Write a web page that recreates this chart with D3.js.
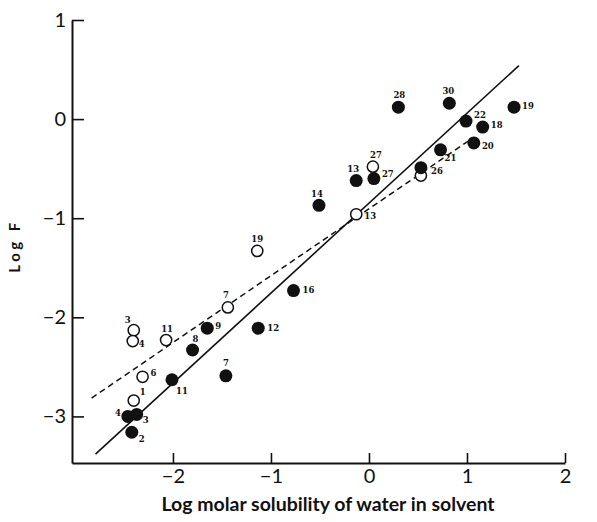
<!DOCTYPE html>
<html>
<head>
<meta charset="utf-8">
<script src="https://cdn.jsdelivr.net/npm/d3@7"></script>
<style>
  body { margin: 0; background: #fff; }
  text { fill: #111; }
</style>
</head>
<body>
<script>
// values

var filledX = [-2.46, -2.37, -2.42, -2.01, -1.80, -1.65, -1.46, -1.13, -0.77, -0.51, -0.13, 0.05, 0.30, 0.82, 1.48, 0.99, 1.16, 1.07, 0.73, 0.53];
var filledY = [-3.00, -2.98, -3.16, -2.63, -2.33, -2.11, -2.59, -2.11, -1.73, -0.87, -0.62, -0.60, 0.12, 0.16, 0.12, -0.02, -0.08, -0.24, -0.31, -0.49];
var filledLabels = ['4', '3', '2', '11', '8', '9', '7', '12', '16', '14', '13', '27', '28', '30', '19', '22', '18', '20', '21', ''];

var openX = [-2.40, -2.41, -2.07, -2.31, -2.40, -1.44, -1.14, 0.04, -0.13, 0.53];
var openY = [-2.13, -2.24, -2.23, -2.60, -2.84, -1.90, -1.33, -0.48, -0.96, -0.57];
var openLabels = ['3', '4', '11', '6', '1', '7', '19', '27', '13', '26'];

var solidX = [-2.79, 1.53];
var solidY = [-3.38, 0.54];
var dashX = [-2.83, 1.06];
var dashY = [-2.815, -0.19];

var xTicks = [-2, -1, 0, 1, 2];
var yTicks = [-3, -2, -1, 0, 1];

// where each number sits relative to its marker
var filledPos = [[-10, -3], [9, 6], [10, 7], [10, 12], [3, -11], [11, -2], [0, -12], [15, 0], [15, 0], [-2, -11], [-3, -11], [14, -4], [1, -12], [-1, -12], [14, -1], [14, -6], [14, -2], [14, 4], [10, 9], [0, 0]];
var openPos = [[-6, -10], [9, 3], [1, -11], [11, -3], [9, -8], [-2, -12], [0, -11], [3, -11], [14, 2], [16, -4]];

var svg = d3.select('body').append('svg')
  .attr('width', 597)
  .attr('height', 522);

var x = d3.scaleLinear().domain([-3.03, 2]).range([72, 565]);
var y = d3.scaleLinear().domain([-3.47, 1]).range([463, 20]);

var fmt = function(d) { return d < 0 ? '\u2212' + Math.abs(d) : d; };

// axes
var xAxis = svg.append('g').attr('transform', 'translate(0,' + y(-3.47) + ')')
  .call(d3.axisBottom(x).tickValues(xTicks).tickSizeInner(-10).tickSizeOuter(0).tickFormat(fmt));
var yAxis = svg.append('g').attr('transform', 'translate(' + x(-3.03) + ',0)')
  .call(d3.axisLeft(y).tickValues(yTicks).tickSizeInner(-12).tickSizeOuter(0).tickFormat(fmt));

[xAxis, yAxis].forEach(function(a) {
  a.select('.domain').attr('stroke', '#111').attr('stroke-width', 2);
  a.selectAll('.tick line').attr('stroke', '#111').attr('stroke-width', 1.6);
  a.selectAll('.tick text').attr('font-family', 'Lato').attr('font-size', 20).attr('fill', '#111');
});
xAxis.selectAll('.tick text').attr('y', 6);
yAxis.selectAll('.tick text').attr('x', -6);

// fitted lines
var line = d3.line().x(function(d) { return x(d[0]); }).y(function(d) { return y(d[1]); });

svg.append('path')
  .attr('d', line(d3.zip(solidX, solidY)))
  .attr('fill', 'none').attr('stroke', '#111').attr('stroke-width', 1.6);

svg.append('path')
  .attr('d', line(d3.zip(dashX, dashY)))
  .attr('fill', 'none').attr('stroke', '#111').attr('stroke-width', 1.5)
  .attr('stroke-dasharray', '6,4');

// points
var filled = d3.range(filledX.length).map(function(i) {
  return { x: filledX[i], y: filledY[i], label: filledLabels[i], pos: filledPos[i] };
});
var open = d3.range(openX.length).map(function(i) {
  return { x: openX[i], y: openY[i], label: openLabels[i], pos: openPos[i] };
});

svg.selectAll('circle.open')
  .data(open)
  .enter().append('circle')
  .attr('class', 'open')
  .attr('cx', function(d) { return x(d.x); })
  .attr('cy', function(d) { return y(d.y); })
  .attr('r', 5.6)
  .attr('fill', '#fff')
  .attr('stroke', '#111')
  .attr('stroke-width', 1.5);

svg.selectAll('circle.filled')
  .data(filled)
  .enter().append('circle')
  .attr('class', 'filled')
  .attr('cx', function(d) { return x(d.x); })
  .attr('cy', function(d) { return y(d.y); })
  .attr('r', 6.5)
  .attr('fill', '#111');

svg.selectAll('text.num')
  .data(filled.concat(open))
  .enter().append('text')
  .attr('class', 'num')
  .attr('x', function(d) { return x(d.x) + d.pos[0]; })
  .attr('y', function(d) { return y(d.y) + d.pos[1]; })
  .attr('text-anchor', 'middle')
  .attr('dominant-baseline', 'middle')
  .attr('font-family', 'DejaVu Serif')
  .attr('font-weight', 'bold')
  .attr('font-size', 8.5)
  .text(function(d) { return d.label; });

// axis titles
svg.append('text')
  .attr('x', 328).attr('y', 511)
  .attr('text-anchor', 'middle')
  .attr('font-family', 'Lato').attr('font-weight', 'bold').attr('font-size', 19.5)
  .text('Log molar solubility of water in solvent');

svg.append('text')
  .attr('transform', 'translate(20,246) rotate(-90)')
  .attr('text-anchor', 'middle')
  .attr('font-family', 'Lato').attr('font-weight', 'bold').attr('font-size', 15)
  .attr('letter-spacing', 3.5)
  .text('Log F');
</script>
</body>
</html>
